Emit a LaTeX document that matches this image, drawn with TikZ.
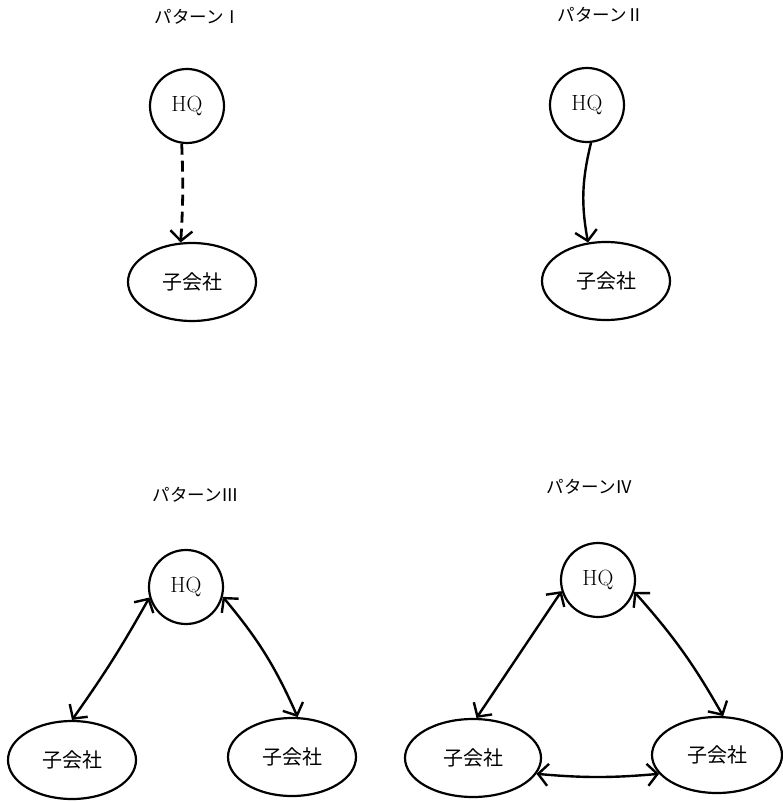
\documentclass[tikz,border=0pt]{standalone}
\usepackage{fontspec}
\newfontfamily\jp{Noto Sans CJK JP}
\usetikzlibrary{shapes.geometric,arrows.meta}
\begin{document}
\begin{tikzpicture}[x=1pt,y=-1pt,
  hqnode/.style={circle,draw,line width=2.2pt,minimum size=74pt,inner sep=0pt,font=\fontsize{22}{26}\selectfont},
  subnode/.style={ellipse,draw,line width=2.2pt,minimum width=128pt,minimum height=78pt,inner sep=0pt,font=\jp\fontsize{20}{24}\selectfont},
  ttl/.style={font=\jp\fontsize{17.5}{20}\selectfont,inner sep=0pt},
  conn/.style={line width=2.4pt,-{Straight Barb[length=10pt,width=22pt,line width=2.4pt]}},
  bconn/.style={line width=2.4pt,{Straight Barb[length=10pt,width=22pt,line width=2.4pt]}-{Straight Barb[length=10pt,width=22pt,line width=2.4pt]}}]
\useasboundingbox (0,0) rectangle (783,802);
% Pattern I
\node[ttl] (t1) at (198,17) {パターンⅠ};
\node[hqnode] (h1) at (187,106) {HQ};
\node[subnode] (s1) at (192,282) {子会社};
\draw[conn,dash pattern=on 11pt off 6pt,line width=2.8pt] (h1.262) to[bend left=3] (s1.106);
% Pattern II
\node[ttl] (t2) at (601,15) {パターンⅡ};
\node[hqnode] (h2) at (587,105) {HQ};
\node[subnode] (s2) at (606,281) {子会社};
\draw[conn] (h2.276) to[bend right=12] (s2.115);
% Pattern III
\node[ttl] (t3) at (196,495) {パターンⅢ};
\node[hqnode] (h3) at (186,587) {HQ};
\node[subnode] (s3l) at (72,760) {子会社};
\node[subnode] (s3r) at (292,757) {子会社};
\draw[bconn] (s3l.90) to[bend right=3] (h3.196);
\draw[bconn] (h3.345) to[bend left=8] (s3r.82);
% Pattern IV
\node[ttl] (t4) at (590,487) {パターンⅣ};
\node[hqnode] (h4) at (598,580) {HQ};
\node[subnode,minimum width=136pt] (s4l) at (473,758) {子会社};
\node[subnode,minimum width=130pt,minimum height=76pt] (s4r) at (717,755) {子会社};
\draw[bconn] (s4l.85) -- (h4.197);
\draw[bconn] (h4.342) to[bend left=6] (s4r.81);
\draw[bconn] (s4l.346) to[bend right=5] (s4r.198);
\end{tikzpicture}
\end{document}
